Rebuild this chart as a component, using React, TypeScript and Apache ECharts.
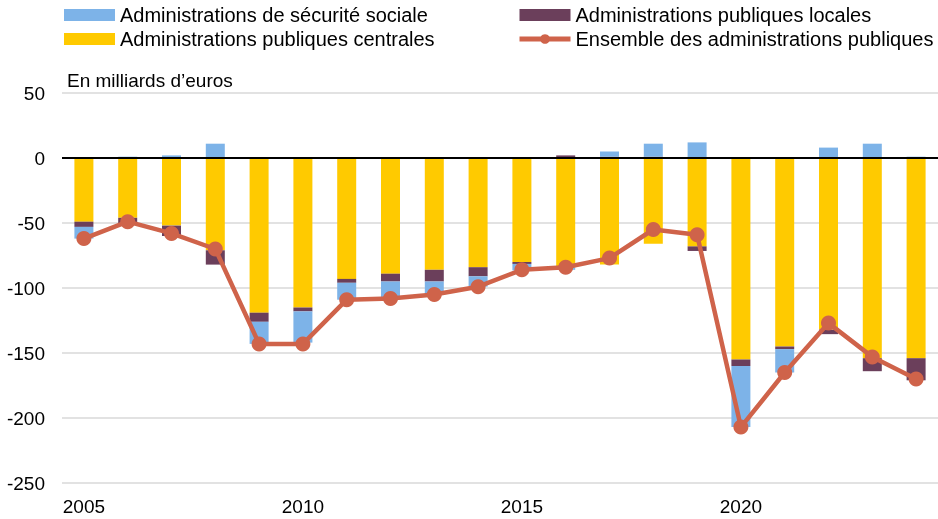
import React, { useEffect, useRef } from "react";
import * as echarts from "echarts";

const years = ["2005","2006","2007","2008","2009","2010","2011","2012","2013","2014","2015","2016","2017","2018","2019","2020","2021","2022","2023","2024"];
const centrales = [-49, -46, -52, -71, -119, -115, -93, -89, -86, -84, -80, -84, -82, -66, -68, -155, -145, -132, -154, -154];
const locales = [-4, -4, -8, -11, -7, -3, -3, -6, -9, -7, -1.5, 2, 1, 1, -3.5, -5, -2, -3.5, -10, -17];
const securite = [-9, 1, 2, 11, -17, -24, -13, -13, -10, -8, -5, -2, 4, 10, 12, -47, -18, 8, 11, 1];
const ensemble = [-62, -49, -58, -70, -143, -143, -109, -108, -105, -99, -86, -84, -77, -55, -59, -207, -165, -127, -153, -170];

const names = {
  secu: "Administrations de sécurité sociale",
  loc: "Administrations publiques locales",
  cent: "Administrations publiques centrales",
  ens: "Ensemble des administrations publiques",
};

const FONT = "'Liberation Sans', Arial, sans-serif";

export default function App() {
  const ref = useRef<HTMLDivElement>(null);
  useEffect(() => {
    if (!ref.current) return;
    const chart = echarts.init(ref.current, undefined, { renderer: "svg" });
    const legendCommon = {
      orient: "vertical" as const,
      top: 5,
      padding: 0,
      itemWidth: 51,
      itemHeight: 12,
      itemGap: 4,
      textStyle: { fontFamily: FONT, fontSize: 20, color: "#000", lineHeight: 20 },
      selectedMode: false,
      lineStyle: { width: 5 },
    };
    chart.setOption({
      animation: false,
      textStyle: { fontFamily: FONT },
      title: {
        text: "En milliards d’euros",
        left: 62,
        top: 66,
        textStyle: { fontFamily: FONT, fontSize: 19, fontWeight: "normal", color: "#000" },
      },
      legend: [
        { ...legendCommon, left: 64, data: [{ name: names.secu, icon: "rect" }, { name: names.cent, icon: "rect" }] },
        { ...legendCommon, left: 517, data: [{ name: names.loc, icon: "rect" }, { name: names.ens }] },
      ],
      grid: { left: 62, right: 0, top: 93, bottom: 36, containLabel: false },
      xAxis: {
        type: "category",
        data: years,
        axisLine: { show: false },
        axisTick: { show: false },
        axisLabel: { interval: 4, fontSize: 19, color: "#000", margin: 14, fontFamily: FONT },
      },
      yAxis: {
        type: "value",
        min: -250,
        max: 50,
        interval: 50,
        axisLine: { show: false },
        axisTick: { show: false },
        axisLabel: { fontSize: 19, color: "#000", margin: 17, fontFamily: FONT },
        splitLine: { lineStyle: { color: "#d9d9d9", width: 1.5 } },
      },
      series: [
        {
          name: names.cent,
          type: "bar",
          stack: "s",
          barWidth: 19,
          data: centrales,
          itemStyle: { color: "#FFCA00" },
          markLine: {
            silent: true,
            symbol: "none",
            label: { show: false },
            lineStyle: { color: "#000", width: 2, type: "solid" },
            data: [{ yAxis: 0 }],
            z: 5,
          },
        },
        {
          name: names.loc,
          type: "bar",
          stack: "s",
          barWidth: 19,
          data: locales,
          itemStyle: { color: "#6B3F5B" },
        },
        {
          name: names.secu,
          type: "bar",
          stack: "s",
          barWidth: 19,
          data: securite,
          itemStyle: { color: "#7DB3E8" },
        },
        {
          name: names.ens,
          type: "line",
          data: ensemble,
          z: 10,
          symbol: "circle",
          symbolSize: 15,
          lineStyle: { color: "#CF634A", width: 4.5 },
          itemStyle: { color: "#CF634A" },
        },
      ],
    });
    return () => chart.dispose();
  }, []);
  return <div ref={ref} style={{ position: "fixed", left: 0, top: 0, width: 938, height: 519 }} />;
}
